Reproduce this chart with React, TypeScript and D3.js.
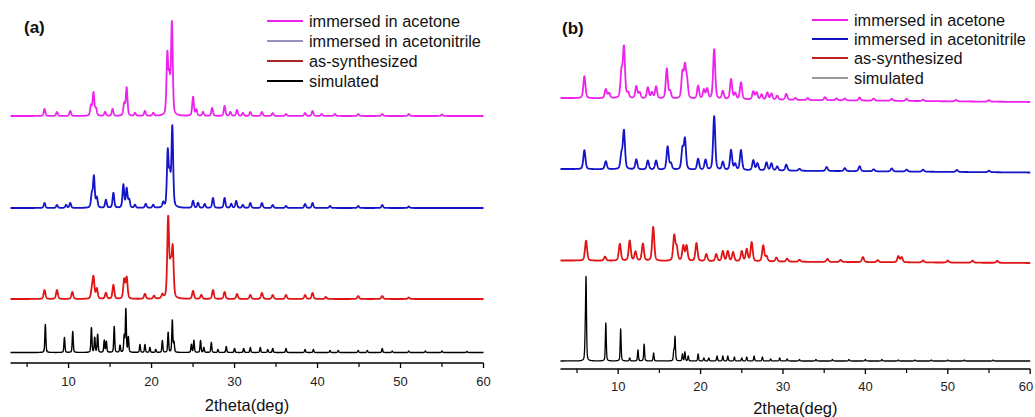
import React from "react";
import * as d3 from "d3";

// ---------- data ----------
const seriesLabels = [
  "immersed in acetone",
  "immersed in acetonitrile",
  "as-synthesized",
  "simulated",
];
const xDomain: [number, number] = [3, 60];
const majorTicks = [10, 20, 30, 40, 50, 60];
const minorTicks = [5, 15, 25, 35, 45, 55];
const axisTitle = "2theta(deg)";

// peak lists [2theta, intensity (a.u.)]
const aAcetone: [number, number][] = [
  [7.1, 7], [8.6, 4], [10.2, 5], [12.7, 10], [13.0, 23], [13.3, 7], [14.4, 4], [15.3, 7],
  [16.7, 12], [17.0, 28], [18.0, 3], [19.2, 5], [20.2, 3], [21.9, 60], [22.15, 35], [22.45, 92],
  [25.0, 19], [25.4, 6], [26.2, 4], [27.3, 8], [28.8, 10], [29.5, 4], [30.3, 6], [31.0, 3],
  [31.9, 4], [33.3, 4], [34.6, 3], [36.2, 2], [38.5, 3], [39.4, 5], [40.5, 2], [42.1, 2],
  [44.9, 2], [47.8, 2], [51.0, 2], [55.0, 1.5],
];
const aAcetonitrile: [number, number][] = [
  [7.1, 5], [8.6, 3], [9.7, 3], [10.2, 5], [12.8, 13], [13.05, 31], [13.4, 10], [14.5, 8],
  [15.4, 15], [16.6, 23], [17.0, 19], [17.3, 8], [18.0, 3], [19.3, 4], [20.2, 3], [21.4, 5],
  [21.95, 55], [22.2, 30], [22.5, 80], [25.0, 7], [25.6, 5], [26.4, 4], [27.4, 10], [28.8, 10],
  [29.6, 4], [30.2, 7], [31.0, 3], [31.9, 5], [33.3, 5], [34.6, 3], [36.2, 2], [38.5, 4],
  [39.4, 5], [41.5, 2], [44.9, 2], [47.8, 3], [51.0, 1.5],
];
const aAsSynth: [number, number][] = [
  [7.1, 9], [8.6, 9], [10.45, 7], [12.8, 8], [13.0, 21], [13.4, 10], [14.5, 6], [15.4, 14],
  [16.7, 19], [17.0, 21], [19.2, 5], [20.3, 3], [21.3, 4], [22.0, 80], [22.3, 30], [22.55, 49],
  [25.0, 8], [26.0, 4], [27.4, 9], [28.8, 7], [30.3, 5], [31.9, 4], [33.3, 6], [34.6, 4],
  [36.2, 4], [38.5, 4], [39.4, 6], [41.0, 2], [44.9, 3], [47.8, 3], [51.0, 1.5],
];
const aSimulated: [number, number][] = [
  [7.2, 28], [9.5, 15], [10.5, 21], [12.75, 25], [13.15, 15], [13.5, 18], [14.3, 12], [14.55, 11],
  [15.5, 26], [16.2, 7], [16.7, 16], [16.9, 43], [17.2, 15], [18.6, 8], [19.2, 8], [19.8, 5],
  [20.5, 3], [21.3, 12], [22.0, 20], [22.5, 32], [22.7, 10], [24.8, 8], [25.1, 12], [25.9, 12],
  [26.3, 5], [27.2, 10], [28.0, 3], [29.0, 6], [30.0, 4], [31.1, 4], [31.9, 5], [33.1, 5],
  [34.0, 3], [34.6, 4], [36.2, 4], [38.5, 3], [39.5, 3], [41.5, 2], [42.5, 2], [44.9, 2],
  [46.0, 2], [47.8, 4], [49.0, 1.5], [51.0, 1.5], [53.0, 1.5], [55.0, 1.5], [58.0, 1],
];

const bAcetone: [number, number][] = [
  [5.9, 22], [8.5, 9], [8.9, 5], [10.4, 25], [10.7, 50], [11.2, 5], [12.2, 12], [12.6, 6],
  [13.6, 11], [14.1, 6], [14.6, 12], [15.9, 30], [16.3, 7], [17.8, 25], [18.1, 30], [18.35, 17],
  [19.7, 13], [20.4, 9], [20.8, 10], [21.65, 50], [22.7, 8], [23.7, 20], [24.2, 6], [24.9, 17],
  [26.4, 8], [26.8, 7], [27.4, 5], [28.1, 7], [28.6, 6], [29.3, 4], [30.4, 6], [31.5, 2],
  [33.0, 2], [35.1, 3], [36.5, 2], [37.5, 2], [39.3, 3], [41.0, 2], [43.2, 2], [45.0, 2],
  [47.0, 1.5], [51.0, 1.5], [55.0, 1.5],
];
const bAcetonitrile: [number, number][] = [
  [5.9, 19], [8.5, 8], [10.4, 14], [10.7, 38], [12.2, 10], [13.6, 9], [14.6, 9], [16.0, 23],
  [16.4, 6], [17.8, 20], [18.1, 30], [19.7, 11], [20.6, 10], [21.65, 54], [22.7, 8], [23.7, 20],
  [24.2, 6], [24.9, 20], [26.4, 10], [26.9, 7], [28.0, 8], [28.6, 7], [29.3, 4], [30.4, 6],
  [32.0, 2], [35.3, 4], [37.5, 3], [39.3, 5], [41.0, 2], [43.2, 3], [45.0, 2], [47.0, 2],
  [51.1, 2], [55.0, 1.5],
];
const bAsSynth: [number, number][] = [
  [6.1, 20], [8.4, 4], [10.2, 17], [11.4, 20], [12.1, 9], [13.0, 17], [14.25, 34], [16.8, 25],
  [17.1, 13], [17.9, 15], [18.3, 15], [19.5, 18], [20.7, 7], [21.9, 7], [22.7, 10], [23.3, 10],
  [23.95, 9], [25.0, 10], [25.6, 12], [26.2, 19], [27.6, 16], [28.0, 5], [29.2, 4], [30.5, 3],
  [32.0, 2], [35.4, 3], [37.0, 2], [39.7, 5], [41.5, 2], [44.0, 6], [44.4, 5], [47.0, 2],
  [50.0, 2], [53.0, 2], [56.0, 2],
];
const bSimulated: [number, number][] = [
  [6.0, 20], [6.1, 80], [8.5, 38], [10.3, 32], [11.4, 3], [12.4, 11], [13.15, 17], [14.3, 8],
  [16.75, 10], [16.9, 24], [17.8, 7], [18.1, 9], [18.5, 5], [19.7, 7], [20.4, 3], [21.0, 3],
  [22.0, 5], [22.7, 5], [23.3, 5], [24.1, 4], [25.0, 3], [25.6, 4], [26.5, 5], [27.5, 4],
  [28.5, 2], [29.6, 3], [30.5, 2], [32.0, 1.5], [34.0, 1.5], [36.0, 1.5], [38.0, 1.5],
  [40.0, 1.5], [42.0, 1.5], [44.0, 1], [46.0, 1], [48.0, 1], [50.0, 1], [52.0, 1], [55.5, 1],
];

// background (a.u.) at 2theta = 3 and 2theta = 60
const aBackground: [number, number][] = [[0, 0], [0, 0], [0, 0], [0, 0]];
const bBackground: [number, number][] = [[4, 0], [3.5, 0], [2.5, 0], [0, 0]];

// ---------- helpers ----------
const grid = d3.range(xDomain[0], xDomain[1] + 1e-9, 0.02);

function profile(peaks: [number, number][], fwhm: number, bg: [number, number]) {
  const bgScale = d3.scaleLinear().domain(xDomain).range(bg);
  return grid.map((t) => {
    let s = bgScale(t);
    for (const [p, h] of peaks) {
      const dx = t - p;
      if (Math.abs(dx) > 4) continue;
      const r = (2 * dx) / fwhm;
      const L = 1 / (1 + r * r);
      const G = Math.exp(-Math.LN2 * r * r);
      s += h * (0.4 * L + 0.6 * G);
    }
    return [t, s] as [number, number];
  });
}

const colors = ["#ee22ee", "#1414c8", "#e01414", "#000000"];
const legendColorsA = ["#ee22ee", "#28287a", "#a82828", "#000000"];
const legendColorsB = ["#ee22ee", "#1414c0", "#c02020", "#333333"];

interface PanelProps {
  label: string;
  x0: number;
  x1: number;
  axisY: number;
  offsets: number[];
  series: [number, number][][];
  fwhms: number[];
  widths: number[];
  bgs: [number, number][];
  legendX: number;
  legendYs: number[];
  legendColors: string[];
  legendWidths: number[];
  labelX: number;
  labelY: number;
  tickLabelY: number;
  titleY: number;
}

function Panel(p: PanelProps) {
  const x = d3.scaleLinear().domain(xDomain).range([p.x0, p.x1]);
  const y = d3.scaleLinear().domain([0, 100]).range([p.axisY, p.axisY - 100]);
  const font = "'Liberation Sans', Arial, sans-serif";
  return (
    <g>
      {p.series.map((pk, i) => {
        const data = profile(pk, p.fwhms[i], p.bgs[i]);
        const line = d3
          .line<[number, number]>()
          .x((d) => x(d[0]))
          .y((d) => y(d[1] + p.offsets[i]));
        return (
          <path
            key={i}
            d={line(data) || ""}
            fill="none"
            stroke={colors[i]}
            strokeWidth={p.widths[i]}
            strokeLinejoin="round"
          />
        );
      })}
      {/* axis */}
      <line x1={p.x0} x2={p.x1} y1={p.axisY} y2={p.axisY} stroke="#000" strokeWidth={1.3} />
      {majorTicks.map((t) => (
        <g key={"M" + t}>
          <line x1={x(t)} x2={x(t)} y1={p.axisY} y2={p.axisY + 5} stroke="#000" strokeWidth={1.3} />
          <text
            x={Math.min(x(t), 1026)}
            y={p.tickLabelY}
            textAnchor="middle"
            fontFamily={font}
            fontSize={13}
            fill="#222"
          >
            {t}
          </text>
        </g>
      ))}
      {minorTicks.map((t) => (
        <line key={"m" + t} x1={x(t)} x2={x(t)} y1={p.axisY} y2={p.axisY + 4} stroke="#000" strokeWidth={1.2} />
      ))}
      <text
        x={(p.x0 + p.x1) / 2}
        y={p.titleY}
        textAnchor="middle"
        fontFamily={font}
        fontSize={16.5}
        fill="#111"
      >
        {axisTitle}
      </text>
      <text x={p.labelX} y={p.labelY} fontFamily={font} fontSize={17} fontWeight="bold" fill="#111">
        {p.label}
      </text>
      {seriesLabels.map((s, i) => (
        <g key={s}>
          <line
            x1={p.legendX}
            x2={p.legendX + 36}
            y1={p.legendYs[i]}
            y2={p.legendYs[i]}
            stroke={p.legendColors[i]}
            strokeWidth={p.legendWidths[i]}
          />
          <text
            x={p.legendX + 42}
            y={p.legendYs[i]}
            dominantBaseline="central"
            fontFamily={font}
            fontSize={16.3}
            fill="#111"
          >
            {s}
          </text>
        </g>
      ))}
    </g>
  );
}

export default function App() {
  return (
    <svg
      width={1035}
      height={417}
      style={{ position: "absolute", left: 0, top: 0, background: "#fff" }}
    >
      <Panel
        label="(a)"
        x0={10.5}
        x1={483.5}
        axisY={363}
        offsets={[247, 155, 64, 10.5]}
        series={[aAcetone, aAcetonitrile, aAsSynth, aSimulated]}
        fwhms={[0.24, 0.24, 0.26, 0.14]}
        widths={[1.8, 1.8, 1.8, 1.4]}
        bgs={aBackground}
        legendX={267}
        legendYs={[21, 41, 61, 81]}
        legendColors={legendColorsA}
        legendWidths={[2, 1.2, 2, 2]}
        labelX={24}
        labelY={33}
        tickLabelY={386}
        titleY={411}
      />
      <Panel
        label="(b)"
        x0={560.5}
        x1={1030.2}
        axisY={369}
        offsets={[267, 196.5, 106, 8]}
        series={[bAcetone, bAcetonitrile, bAsSynth, bSimulated]}
        fwhms={[0.3, 0.3, 0.3, 0.13]}
        widths={[1.8, 1.8, 1.8, 1.3]}
        bgs={bBackground}
        legendX={812}
        legendYs={[20, 39, 58, 78]}
        legendColors={legendColorsB}
        legendWidths={[2, 2, 2, 1.2]}
        labelX={562}
        labelY={34}
        tickLabelY={391}
        titleY={414}
      />
    </svg>
  );
}
